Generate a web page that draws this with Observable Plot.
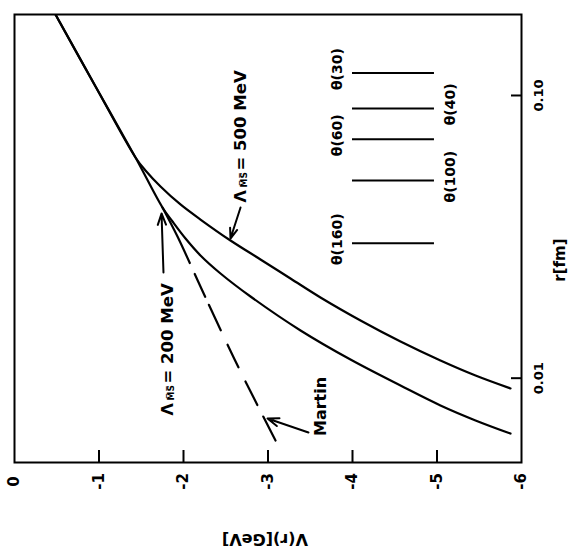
<!DOCTYPE html>
<html>
<head>
<meta charset="utf-8">
<script src="https://cdn.jsdelivr.net/npm/d3@7"></script>
<script src="https://cdn.jsdelivr.net/npm/@observablehq/plot@0.6"></script>
<style>
  html, body { margin: 0; padding: 0; background: #fff; }
  #chart svg { display: block; }
</style>
</head>
<body>
<div id="chart"></div>
<script>
// Static potential V(r) against distance r (log scale); whole figure set on its side.

// V(r) in GeV, r in fm
const lambda500V = [-0.485, -0.959, -1.432, -1.550, -1.728, -1.964, -2.201, -2.556, -2.911, -3.266, -3.621, -4.095, -4.568, -5.041, -5.456, -5.870];
const lambda500R = [0.1934, 0.1076, 0.06034, 0.05429, 0.04765, 0.04116, 0.03641, 0.03069, 0.02630, 0.02253, 0.01930, 0.01600, 0.01348, 0.01155, 0.01022, 0.00920];

const lambda200V = [-0.485, -0.959, -1.432, -1.751, -1.870, -2.024, -2.201, -2.438, -2.793, -3.385, -3.976, -4.568, -5.041, -5.456, -5.870];
const lambda200R = [0.1934, 0.1076, 0.06034, 0.04017, 0.03583, 0.03119, 0.02717, 0.02346, 0.01945, 0.01475, 0.01164, 0.00942, 0.00801, 0.00709, 0.00637];

// Martin potential, from where it leaves the 200 MeV curve
const martinV = [-1.751, -1.929, -2.260, -2.651, -3.089];
const martinR = [0.04017, 0.0317, 0.0193, 0.01091, 0.00602];

// distance markers
const thetaLabels = ["θ(30)", "θ(40)", "θ(60)", "θ(100)", "θ(160)"];
const thetaR = [0.12, 0.09, 0.07, 0.05, 0.03];
const thetaSide = ["left", "right", "left", "right", "left"];
const thetaSpan = [-4.0, -4.97];
const thetaLabelV = {left: -3.82, right: -5.16};

// axis ticks
const vTicks = [0, -1, -2, -3, -4, -5, -6];
const rTicks = [0.01, 0.1];
const rTickLabels = ["0.01", "0.10"];

// curve labels and arrows
const lambdaLabelText = ["500 MeV", "200 MeV"];
const lambdaLabelV = [-2.675, -1.811];
const lambdaLabelR = [0.04183, 0.00738];
const martinLabelV = -3.621;
const martinLabelR = 0.007942;
const arrowV1 = [-2.675, -1.763, -3.479];
const arrowR1 = [0.04017, 0.02365, 0.006425];
const arrowV2 = [-2.556, -1.740, -2.994];
const arrowR2 = [0.03119, 0.03825, 0.0072];

const toRows = (vs, rs, name) => vs.map((v, i) => ({V: v, r: rs[i], curve: name}));
const solidCurves = [
  ...toRows(lambda500V, lambda500R, "500"),
  ...toRows(lambda200V, lambda200R, "200")
];
const martin = toRows(martinV, martinR, "Martin");
const theta = thetaLabels.map((t, i) => ({
  label: t, r: thetaR[i], v1: thetaSpan[0], v2: thetaSpan[1], lv: thetaLabelV[thetaSide[i]]
}));
const lambdaLabels = lambdaLabelText.map((t, i) => ({text: t, V: lambdaLabelV[i], r: lambdaLabelR[i]}));
const arrows = arrowV1.map((v, i) => ({x1: v, y1: arrowR1[i], x2: arrowV2[i], y2: arrowR2[i]}));

const FONT = "DejaVu Sans";
const bold = {fontFamily: FONT, fontWeight: "bold", fill: "black"};

const chart = Plot.plot({
  width: 580,
  height: 554,
  marginLeft: 14,
  marginRight: 59,
  marginTop: 14,
  marginBottom: 92,
  style: {fontFamily: FONT, background: "white", color: "black"},
  x: {domain: [0, -6]},
  y: {type: "log", domain: [0.005032, 0.1934]},
  marks: [
    Plot.frame({stroke: "black", strokeWidth: 2}),
    // inward ticks
    Plot.ruleX(vTicks.slice(1, -1), {insetTop: 436, stroke: "black", strokeWidth: 2}),
    Plot.ruleY(rTicks, {y: d => d, insetLeft: 497, stroke: "black", strokeWidth: 2}),
    Plot.axisX({
      anchor: "bottom", ticks: vTicks, tickSize: 0, tickPadding: 19,
      tickRotate: -90, textAnchor: "middle", lineAnchor: "middle",
      tickFormat: d => String(d), fontSize: 15, fontWeight: "bold", label: null
    }),
    Plot.axisY({
      anchor: "right", ticks: rTicks, tickSize: 0, tickPadding: 17,
      tickRotate: -90, textAnchor: "middle", lineAnchor: "middle",
      tickFormat: d => rTickLabels[rTicks.indexOf(d)], fontSize: 13, fontWeight: "bold", label: null
    }),
    // axis titles
    Plot.text(["r[fm]"], {frameAnchor: "right", dx: 39, rotate: -90, fontSize: 15, ...bold}),
    Plot.text(["V(r)[GeV]"], {frameAnchor: "bottom", dy: 71, dx: -3, rotate: 180, fontSize: 16, ...bold}),
    // potentials
    Plot.line(solidCurves, {x: "V", y: "r", z: "curve", curve: "catmull-rom", stroke: "black", strokeWidth: 2.2, clip: true}),
    Plot.line(martin, {x: "V", y: "r", curve: "catmull-rom", stroke: "black", strokeWidth: 2.2,
      strokeDasharray: "62,12,25,9,28,16,25,16,26,13,40", clip: true}),
    // distance markers
    Plot.ruleY(theta, {y: "r", x1: "v1", x2: "v2", stroke: "black", strokeWidth: 2}),
    Plot.text(theta, {x: "lv", y: "r", text: "label", rotate: -90, dy: -4, fontSize: 14, ...bold}),
    // Λ labels: Λ, overlined MS subscript, value
    Plot.text(lambdaLabels, {x: "V", y: "r", text: () => "Λ", rotate: -90, textAnchor: "start", fontSize: 16, ...bold}),
    Plot.text(lambdaLabels, {x: "V", y: "r", text: () => "M\u0305S\u0305", rotate: -90, textAnchor: "start", dy: -15, dx: 4, fontSize: 9, ...bold}),
    Plot.text(lambdaLabels, {x: "V", y: "r", text: d => "= " + d.text, rotate: -90, textAnchor: "start", dy: -32, fontSize: 16.5, ...bold}),
    Plot.text(["Martin"], {x: () => martinLabelV, y: () => martinLabelR, rotate: -90, fontSize: 16, ...bold}),
    Plot.arrow(arrows, {x1: "x1", y1: "y1", x2: "x2", y2: "y2", stroke: "black", strokeWidth: 2, headLength: 9, headAngle: 40})
  ]
});

document.getElementById("chart").appendChild(chart);
</script>
</body>
</html>
